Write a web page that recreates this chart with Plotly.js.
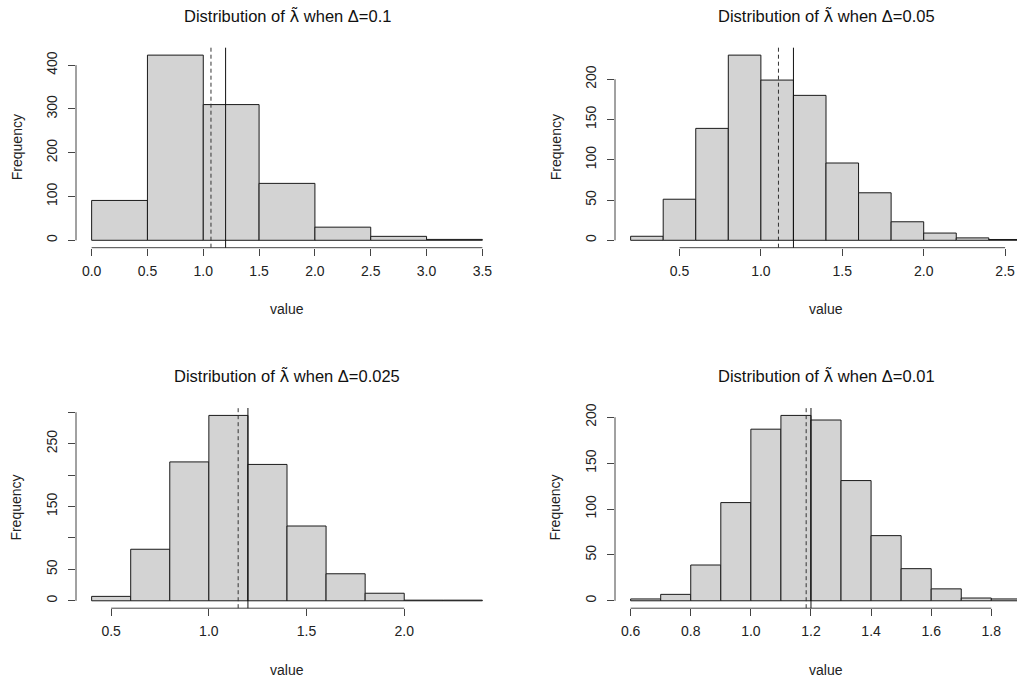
<!DOCTYPE html>
<html>
<head>
<meta charset="utf-8">
<script src="https://cdn.plot.ly/plotly-3.0.1.min.js"></script>
<style>
html, body { margin: 0; padding: 0; overflow: hidden; background: #fff; }
#chart { width: 1040px; height: 682px; }
</style>
</head>
<body>
<div id="chart"></div>
<script>
// ---- data ----
const deltas = ["0.1", "0.05", "0.025", "0.01"];

const breaks1 = [0.0, 0.5, 1.0, 1.5, 2.0, 2.5, 3.0, 3.5];
const counts1 = [91, 423, 310, 130, 30, 9, 2];
const mean1 = 1.069;

const breaks2 = [0.2, 0.4, 0.6, 0.8, 1.0, 1.2, 1.4, 1.6, 1.8, 2.0, 2.2, 2.4, 2.6];
const counts2 = [5, 51, 139, 230, 199, 180, 96, 59, 23, 9, 3, 1];
const mean2 = 1.108;

const breaks3 = [0.4, 0.6, 0.8, 1.0, 1.2, 1.4, 1.6, 1.8, 2.0, 2.2, 2.4];
const counts3 = [7, 82, 221, 295, 217, 119, 43, 12, 1, 1];
const mean3 = 1.150;

const breaks4 = [0.6, 0.7, 0.8, 0.9, 1.0, 1.1, 1.2, 1.3, 1.4, 1.5, 1.6, 1.7, 1.8, 1.9];
const counts4 = [2, 7, 39, 107, 187, 202, 197, 131, 71, 35, 13, 3, 2];
const mean4 = 1.184;

const trueValue = 1.2;

const xTicks1 = [0.0, 0.5, 1.0, 1.5, 2.0, 2.5, 3.0, 3.5];
const xTickText1 = ["0.0", "0.5", "1.0", "1.5", "2.0", "2.5", "3.0", "3.5"];
const yTicks1 = [0, 100, 200, 300, 400];
const yTickText1 = ["0", "100", "200", "300", "400"];

const xTicks2 = [0.5, 1.0, 1.5, 2.0, 2.5];
const xTickText2 = ["0.5", "1.0", "1.5", "2.0", "2.5"];
const yTicks2 = [0, 50, 100, 150, 200];
const yTickText2 = ["0", "50", "100", "150", "200"];

const xTicks3 = [0.5, 1.0, 1.5, 2.0];
const xTickText3 = ["0.5", "1.0", "1.5", "2.0"];
const yTicks3 = [0, 50, 100, 150, 200, 250, 300];
const yTickText3 = ["0", "50", "", "150", "", "250", ""];

const xTicks4 = [0.6, 0.8, 1.0, 1.2, 1.4, 1.6, 1.8];
const xTickText4 = ["0.6", "0.8", "1.0", "1.2", "1.4", "1.6", "1.8"];
const yTicks4 = [0, 50, 100, 150, 200];
const yTickText4 = ["0", "50", "100", "150", "200"];

// ---- layout geometry ----
const W = 1040, H = 682;
const FONT = "Liberation Sans, Arial, sans-serif";
const colX = [[76, 498], [615, 1037]];
const rowY = [[47.7, 247.7], [408, 608.2]];

const panels = [
  {breaks: breaks1, counts: counts1, mean: mean1, xt: xTicks1, xtt: xTickText1, yt: yTicks1, ytt: yTickText1, col: 0, row: 0},
  {breaks: breaks2, counts: counts2, mean: mean2, xt: xTicks2, xtt: xTickText2, yt: yTicks2, ytt: yTickText2, col: 1, row: 0},
  {breaks: breaks3, counts: counts3, mean: mean3, xt: xTicks3, xtt: xTickText3, yt: yTicks3, ytt: yTickText3, col: 0, row: 1},
  {breaks: breaks4, counts: counts4, mean: mean4, xt: xTicks4, xtt: xTickText4, yt: yTicks4, ytt: yTickText4, col: 1, row: 1}
];

const traces = [];
const layout = {
  width: W, height: H,
  margin: {l: 0, r: 0, t: 0, b: 0},
  paper_bgcolor: "#fff", plot_bgcolor: "#fff",
  showlegend: false,
  bargap: 0, barmode: "overlay",
  font: {family: FONT, color: "#222"},
  shapes: [], annotations: []
};

panels.forEach((p, i) => {
  const n = i + 1;
  const xs = n === 1 ? "" : String(n);
  const xName = "x" + xs, yName = "y" + xs;
  const centers = [], widths = [];
  for (let k = 0; k < p.counts.length; k++) {
    centers.push((p.breaks[k] + p.breaks[k + 1]) / 2);
    widths.push(p.breaks[k + 1] - p.breaks[k]);
  }
  traces.push({
    type: "bar", x: centers, y: p.counts, width: widths,
    xaxis: xName, yaxis: yName,
    marker: {color: "#d3d3d3", line: {color: "#1a1a1a", width: 1}},
    hoverinfo: "skip"
  });

  const bMin = p.breaks[0], bMax = p.breaks[p.breaks.length - 1];
  const xPad = (bMax - bMin) * 0.04;
  const yMax = Math.max(...p.counts);
  const yPad = yMax * 0.04;

  const cx = colX[p.col], ry = rowY[p.row];
  const axBase = {
    showgrid: false, zeroline: false, showline: false,
    ticks: "outside", ticklen: 7, tickwidth: 1, tickcolor: "#444",
    tickfont: {family: FONT, size: 14, color: "#222"},
    fixedrange: true, tickmode: "array"
  };
  layout["xaxis" + xs] = Object.assign({}, axBase, {
    domain: [cx[0] / W, cx[1] / W],
    range: [bMin - xPad, bMax + xPad],
    anchor: yName,
    tickvals: p.xt, ticktext: p.xtt,
    ticklabelstandoff: 3
  });
  layout["yaxis" + xs] = Object.assign({}, axBase, {
    domain: [1 - ry[1] / H, 1 - ry[0] / H],
    range: [-yPad, yMax + yPad],
    anchor: xName,
    tickvals: p.yt, ticktext: p.ytt,
    tickangle: -90,
    ticklabelstandoff: 5
  });

  // axis lines spanning first to last tick (R style)
  layout.shapes.push({type: "line", xref: xName, yref: yName + " domain",
    x0: p.xt[0], x1: p.xt[p.xt.length - 1], y0: 0, y1: 0,
    line: {color: "#444", width: 1}});
  layout.shapes.push({type: "line", xref: xName + " domain", yref: yName,
    x0: 0, x1: 0, y0: p.yt[0], y1: p.yt[p.yt.length - 1],
    line: {color: "#444", width: 1}});
  // mean (dashed) and true value (solid)
  layout.shapes.push({type: "line", xref: xName, yref: yName + " domain",
    x0: p.mean, x1: p.mean, y0: 0, y1: 1,
    line: {color: "#333", width: 1, dash: "4px,3px"}});
  layout.shapes.push({type: "line", xref: xName, yref: yName + " domain",
    x0: trueValue, x1: trueValue, y0: 0, y1: 1,
    line: {color: "#111", width: 1}});

  const midX = (cx[0] + cx[1]) / 2;
  layout.annotations.push({
    text: "Distribution of <span style='font-family:DejaVu Sans'>λ\u0303</span> when Δ=" + deltas[i],
    xref: "paper", yref: "paper", x: midX / W, y: 1 - (ry[0] - 31.5) / H,
    xanchor: "center", yanchor: "middle", showarrow: false,
    font: {family: FONT, size: 16.5, color: "#111"}
  });
  layout.annotations.push({
    text: "value", xref: "paper", yref: "paper",
    x: midX / W, y: 1 - (ry[1] + 61.5) / H,
    xanchor: "center", yanchor: "middle", showarrow: false,
    font: {family: FONT, size: 14, color: "#222"}
  });
  layout.annotations.push({
    text: "Frequency", xref: "paper", yref: "paper",
    x: (cx[0] - 59.5) / W, y: 1 - ((ry[0] + ry[1]) / 2) / H,
    xanchor: "center", yanchor: "middle", showarrow: false, textangle: -90,
    font: {family: FONT, size: 14, color: "#222"}
  });
});

Plotly.newPlot("chart", traces, layout, {staticPlot: true, displayModeBar: false});
</script>
</body>
</html>
